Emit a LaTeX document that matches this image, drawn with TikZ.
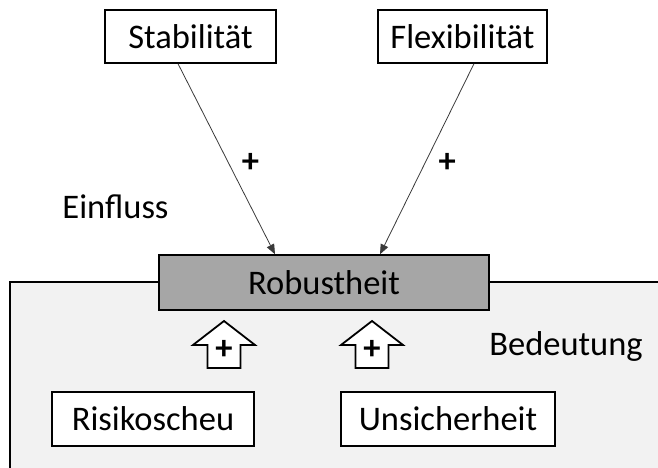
\documentclass[tikz,border=0pt]{standalone}
\usepackage{fontspec}
\setmainfont{Carlito}
\usetikzlibrary{arrows.meta}
\definecolor{panelgray}{HTML}{F2F2F2}
\definecolor{corefill}{HTML}{A6A6A6}
\definecolor{linkink}{HTML}{3A3A3A}

\begin{document}
\begin{tikzpicture}[
  x=1pt,
  y=-1pt,
  every node/.style={font=\fontsize{34.5}{41}\selectfont, inner sep=0pt, text=black},
  factor/.style={draw, line width=1.4pt, fill=white, minimum height=53pt},
  core/.style={draw, line width=1.4pt, fill=corefill, minimum width=330pt, minimum height=55pt},
  link/.style={linkink, line width=0.8pt, -{Triangle[length=10pt, width=8pt]}},
  panel/.style={black, line width=1.4pt},
  bigarrow/.style={draw, line width=1.8pt, fill=white, line join=miter}
]
  % ---- page frame ----
  \useasboundingbox (0,0) rectangle (658,468);

  % ---- lower panel, running off the page ----
  \fill[panelgray] (10,282) rectangle (670,480);
  \draw[panel] (10,480) -- (10,282) -- (670,282);

  % ---- boxes ----
  \node[factor, minimum width=171pt] (stab) at (190.5,36.5) {Stabilität};
  \node[factor, minimum width=169pt] (flex) at (462.5,36.5) {Flexibilität};
  \node[core] (rob) at (324,282.5) {Robustheit};
  \node[factor, minimum width=202pt, minimum height=54pt] (risk) at (153,419) {Risikoscheu};
  \node[factor, minimum width=214pt, minimum height=54pt] (unsi) at (448,419) {Unsicherheit};

  % ---- influence arrows ----
  \draw[link] ([xshift=-12.5pt]stab.south) -- ([xshift=-49pt]rob.north)
    node[pos=0.52, right=13pt] (plusstab) {\textbf{+}};
  \draw[link] ([xshift=11.5pt]flex.south) -- ([xshift=56pt]rob.north)
    node[pos=0.52, right=13pt] (plusflex) {\textbf{+}};

  % ---- block arrows, tip at top ----
  \draw[bigarrow] (224,321) -- ++(31,24) -- ++(-14.5,0) -- ++(0,23)
    -- ++(-33,0) -- ++(0,-23) -- ++(-14.5,0) -- cycle;
  \draw[bigarrow] (372,321) -- ++(31,24) -- ++(-14.5,0) -- ++(0,23)
    -- ++(-33,0) -- ++(0,-23) -- ++(-14.5,0) -- cycle;
  \node (plusrisk) at (224,350) {\textbf{+}};
  \node (plusunsi) at (372,350) {\textbf{+}};

  % ---- free labels ----
  \node[anchor=base] (einfl) at (115.5,218) {Einfluss};
  \node[anchor=base] (bedeu) at (566,355) {Bedeutung};
\end{tikzpicture}
\end{document}
